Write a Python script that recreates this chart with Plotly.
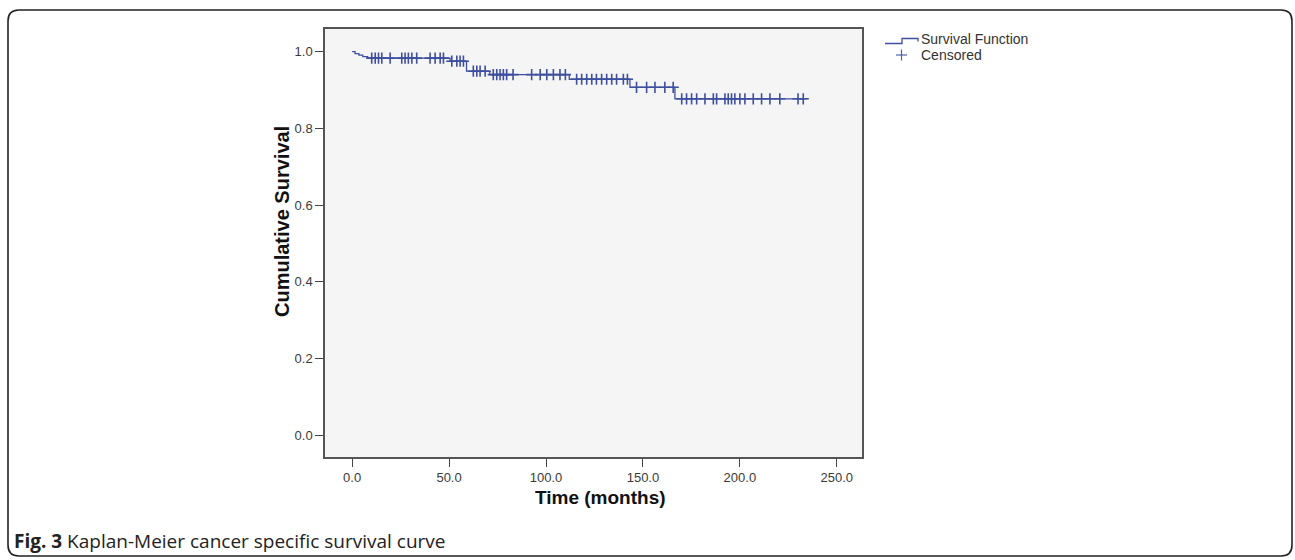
import plotly.graph_objects as go
import numpy as np

# ---- data ----
event_times = [0.0, 1.5, 3.5, 5.5, 8.0, 50.5, 59.0, 71.0, 112.0, 143.3, 166.5]
survival = [1.0, 0.995, 0.991, 0.987, 0.983, 0.975, 0.949, 0.940, 0.928, 0.907, 0.877]
last_time = 234.5
censor_times = [10.1, 11.9, 13.6, 15.3, 19.6, 25.6, 27.3, 29.0, 30.8, 33.3,
                40.2, 42.8, 45.4, 47.1, 51.4, 54.0, 55.7, 57.4, 62.5, 64.3,
                66.0, 68.6, 72.8, 74.6, 76.3, 78.0, 79.7, 83.0, 92.6, 97.0,
                100.4, 103.8, 107.2, 110.0, 115.8, 118.4, 121.0, 123.6, 126.0,
                128.7, 131.3, 133.9, 136.4, 139.9, 142.0, 146.7, 151.9, 156.2,
                161.3, 165.6, 170.0, 172.5, 175.1, 177.7, 182.0, 186.3, 188.0,
                192.3, 194.0, 195.7, 197.4, 200.0, 202.6, 206.9, 211.2, 215.5,
                220.6, 230.0, 232.7]
x_ticks = [0, 50, 100, 150, 200, 250]
y_ticks = [0.0, 0.2, 0.4, 0.6, 0.8, 1.0]

BLUE = "#3F4FA0"

# step curve
sx = event_times + [last_time]
sy = survival + [survival[-1]]
idx = np.searchsorted(np.array(event_times), np.array(censor_times), side="right") - 1
cy = [survival[i] for i in idx]

fig = go.Figure()
fig.add_trace(go.Scatter(x=sx, y=sy, mode="lines", line_shape="hv",
                         line=dict(color=BLUE, width=1.3),
                         name="Survival Function", showlegend=False, hoverinfo="skip"))
fig.add_trace(go.Scatter(x=censor_times, y=cy, mode="markers",
                         marker=dict(symbol="cross-thin", size=8,
                                     line=dict(color=BLUE, width=1.6)),
                         name="Censored", showlegend=False))

W, H = 1295, 560
L, R, T, B = 325, 433, 29, 103
PW, PH = W - L - R, H - T - B

def px(x):
    return (x - L) / PW

def py(y):
    return (H - B - y) / PH

shapes = []
# outer rounded border
x0, y0, x1, y1, r = 8, 10, 1292, 556, 11
path = (f"M {px(x0+r)},{py(y0)} L {px(x1-r)},{py(y0)} Q {px(x1)},{py(y0)} {px(x1)},{py(y0+r)} "
        f"L {px(x1)},{py(y1-r)} Q {px(x1)},{py(y1)} {px(x1-r)},{py(y1)} "
        f"L {px(x0+r)},{py(y1)} Q {px(x0)},{py(y1)} {px(x0)},{py(y1-r)} "
        f"L {px(x0)},{py(y0+r)} Q {px(x0)},{py(y0)} {px(x0+r)},{py(y0)} Z")
shapes.append(dict(type="path", xref="paper", yref="paper", path=path,
                   line=dict(color="#222", width=1.6)))
# legend step icon
lp = (f"M {px(885)},{py(43.5)} L {px(902)},{py(43.5)} L {px(902)},{py(38.5)} "
      f"L {px(918)},{py(38.5)} L {px(918)},{py(41.5)}")
shapes.append(dict(type="path", xref="paper", yref="paper", path=lp,
                   line=dict(color=BLUE, width=1.3)))
# legend plus
shapes.append(dict(type="line", xref="paper", yref="paper", x0=px(896), x1=px(907),
                   y0=py(55), y1=py(55), line=dict(color="#5060A8", width=1.2)))
shapes.append(dict(type="line", xref="paper", yref="paper", x0=px(901.5), x1=px(901.5),
                   y0=py(49.5), y1=py(60.5), line=dict(color="#5060A8", width=1.2)))

ann = [
    dict(text="Survival Function", x=px(919), y=py(39), xref="paper", yref="paper",
         xanchor="left", yanchor="middle", showarrow=False,
         font=dict(family="Arial", size=14, color="#333")),
    dict(text="Censored", x=px(919), y=py(55), xref="paper", yref="paper",
         xanchor="left", yanchor="middle", showarrow=False,
         font=dict(family="Arial", size=14, color="#333")),
    dict(text="<b>Cumulative Survival</b>", x=px(282), y=py(222), xref="paper", yref="paper",
         xanchor="center", yanchor="middle", textangle=-90, showarrow=False,
         font=dict(family="Arial", size=20, color="#111")),
    dict(text="<b>Time (months)</b>", x=px(600), y=py(497), xref="paper", yref="paper",
         xanchor="center", yanchor="middle", showarrow=False,
         font=dict(family="Arial", size=19, color="#111")),
    dict(text="<b>Fig. 3</b> Kaplan-Meier cancer specific survival curve",
         x=px(12), y=py(541), xref="paper", yref="paper",
         xanchor="left", yanchor="middle", showarrow=False,
         font=dict(family="Open Sans", size=19, color="#222")),
]

fig.update_layout(
    width=W, height=H,
    margin=dict(l=L, r=R, t=T, b=B, autoexpand=False),
    paper_bgcolor="white", plot_bgcolor="#F5F5F5",
    shapes=shapes, annotations=ann, showlegend=False,
    font=dict(family="Arial", size=13, color="#333"),
)
fig.update_xaxes(range=[-14, 263], tickvals=x_ticks,
                 ticktext=[f"{v:.1f}" for v in x_ticks],
                 showgrid=False, zeroline=False, showline=True, mirror=True,
                 linecolor="#555", linewidth=1.5, ticks="outside", ticklen=8,
                 tickwidth=1.2, tickcolor="#444",
                 tickfont=dict(family="Arial", size=13, color="#3a3a3a"))
fig.update_yaxes(range=[-0.057, 1.059], tickvals=y_ticks,
                 ticktext=[f"{v:.1f}" for v in y_ticks],
                 showgrid=False, zeroline=False, showline=True, mirror=True,
                 linecolor="#555", linewidth=1.5, ticks="outside", ticklen=8,
                 tickwidth=1.2, tickcolor="#444",
                 tickfont=dict(family="Arial", size=13, color="#3a3a3a"))

fig.write_html("out.html", config={"displayModeBar": False})

# remove default page margin so the figure sits at the window origin
with open("out.html", "r", encoding="utf-8") as f:
    html = f.read()
html = html.replace("<head>", "<head><style>html,body{margin:0;padding:0;overflow:hidden;}</style>", 1)
with open("out.html", "w", encoding="utf-8") as f:
    f.write(html)
